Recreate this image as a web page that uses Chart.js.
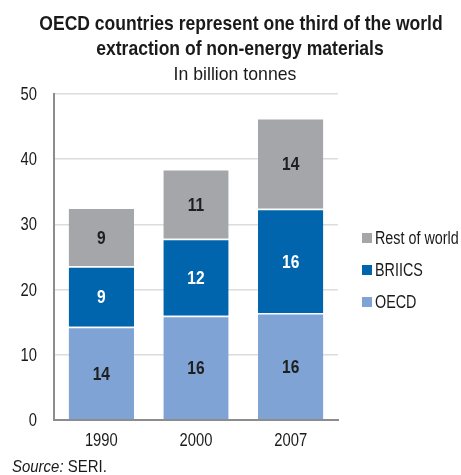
<!DOCTYPE html>
<html>
<head>
<meta charset="utf-8">
<script src="https://cdn.jsdelivr.net/npm/chart.js@4.4.1/dist/chart.umd.min.js"></script>
<style>
  html, body { margin: 0; padding: 0; background: #fff; }
  #wrap { width: 461px; height: 475px; position: relative; }
</style>
</head>
<body>
<div id="wrap"><canvas id="grafico"></canvas></div>
<script>
// datos en miles de millones de toneladas
const anios = ['1990', '2000', '2007'];
const oecd = [14.3, 16.0, 16.4];
const briics = [9.3, 11.8, 16.0];
const restoMundo = [9.0, 10.7, 13.9];
const ticksY = [0, 10, 20, 30, 40, 50];

const fuente = '"Liberation Sans", Arial, sans-serif';
const angosto = 0.82; // letra estrecha tipo Arial Narrow

// escribe texto comprimido horizontalmente
function texto(ctx, str, x, y, align, escala) {
  ctx.save();
  ctx.translate(x, y);
  ctx.scale(escala || angosto, 1);
  ctx.textAlign = align;
  ctx.fillText(str, 0, 0);
  ctx.restore();
}

// titulo, ejes, leyenda, fuente y etiquetas de valor
const extras = {
  id: 'extras',
  afterDraw(chart) {
    const ctx = chart.ctx;
    ctx.save();
    ctx.fillStyle = '#1a1a1a';
    ctx.textBaseline = 'alphabetic';
    ctx.font = 'bold 21px ' + fuente;
    texto(ctx, 'OECD countries represent one third of the world', 241, 30, 'center', 0.835);
    texto(ctx, 'extraction of non-energy materials', 240, 55, 'center', 0.835);
    ctx.font = '19px ' + fuente;
    texto(ctx, 'In billion tonnes', 235, 80, 'center', 0.93);

    // etiquetas de los ejes
    const ejeY = chart.scales.y;
    ctx.font = '18px ' + fuente;
    ctx.textBaseline = 'middle';
    ejeY.ticks.forEach(function (t, i) {
      texto(ctx, String(t.value), 37, ejeY.getPixelForTick(i) + 1, 'right');
    });
    const ejeX = chart.scales.x;
    ctx.textBaseline = 'alphabetic';
    ejeX.ticks.forEach(function (t, i) {
      texto(ctx, chart.data.labels[i], ejeX.getPixelForTick(i), 446, 'center');
    });

    // etiquetas dentro de cada segmento
    ctx.font = 'bold 19px ' + fuente;
    ctx.textBaseline = 'middle';
    chart.data.datasets.forEach(function (ds, i) {
      const meta = chart.getDatasetMeta(i);
      meta.data.forEach(function (bar, j) {
        ctx.fillStyle = ds.labelColor;
        texto(ctx, String(Math.round(ds.data[j])), bar.x, (bar.y + bar.base) / 2 + 1.5, 'center');
      });
    });

    // leyenda a la derecha (orden inverso)
    ctx.font = '17.5px ' + fuente;
    const orden = [2, 1, 0];
    orden.forEach(function (i, k) {
      const ds = chart.data.datasets[i];
      const y = 238 + k * 32;
      ctx.fillStyle = ds.backgroundColor;
      ctx.fillRect(362, y - 5, 10, 10);
      ctx.fillStyle = '#1a1a1a';
      texto(ctx, ds.label, 375, y + 1, 'left');
    });

    // fuente
    ctx.textBaseline = 'alphabetic';
    ctx.font = 'italic 17px ' + fuente;
    texto(ctx, 'Source:', 12, 472, 'left', 0.88);
    const w = ctx.measureText('Source: ').width * 0.88;
    ctx.font = '17px ' + fuente;
    texto(ctx, 'SERI.', 12 + w, 472, 'left', 0.88);
    ctx.restore();
  }
};

const ctx = document.getElementById('grafico');
new Chart(ctx, {
  type: 'bar',
  data: {
    labels: anios,
    datasets: [{
      label: 'OECD',
      data: oecd,
      backgroundColor: '#7fa3d5',
      borderColor: '#ffffff',
      borderWidth: { top: 1.5 },
      borderSkipped: false,
      labelColor: '#1f1f1f'
    }, {
      label: 'BRIICS',
      data: briics,
      backgroundColor: '#0065ad',
      borderColor: '#ffffff',
      borderWidth: { top: 1.5 },
      borderSkipped: false,
      labelColor: '#ffffff'
    }, {
      label: 'Rest of world',
      data: restoMundo,
      backgroundColor: '#a5a6aa',
      borderColor: '#ffffff',
      borderWidth: { top: 1.5 },
      borderSkipped: false,
      labelColor: '#1f1f1f'
    }]
  },
  options: {
    responsive: true,
    maintainAspectRatio: false,
    animation: false,
    layout: { padding: { top: 94, right: 123, bottom: 25, left: 0 } },
    plugins: {
      legend: { display: false },
      tooltip: { enabled: false }
    },
    datasets: {
      bar: { barPercentage: 0.69, categoryPercentage: 1 }
    },
    scales: {
      x: {
        stacked: true,
        grid: { display: false, drawTicks: false },
        border: { color: '#8c8c8c', width: 2 },
        ticks: { display: false },
        afterFit: function (scale) { scale.height = 30; }
      },
      y: {
        stacked: true,
        min: 0,
        max: 50,
        afterBuildTicks: function (scale) {
          scale.ticks = ticksY.map(function (v) { return { value: v }; });
        },
        grid: { color: '#dcdcdc', lineWidth: 1.5, drawTicks: false },
        border: { color: '#8c8c8c', width: 2 },
        ticks: { display: false },
        afterFit: function (scale) { scale.width = 54; }
      }
    }
  },
  plugins: [extras]
});
</script>
</body>
</html>
